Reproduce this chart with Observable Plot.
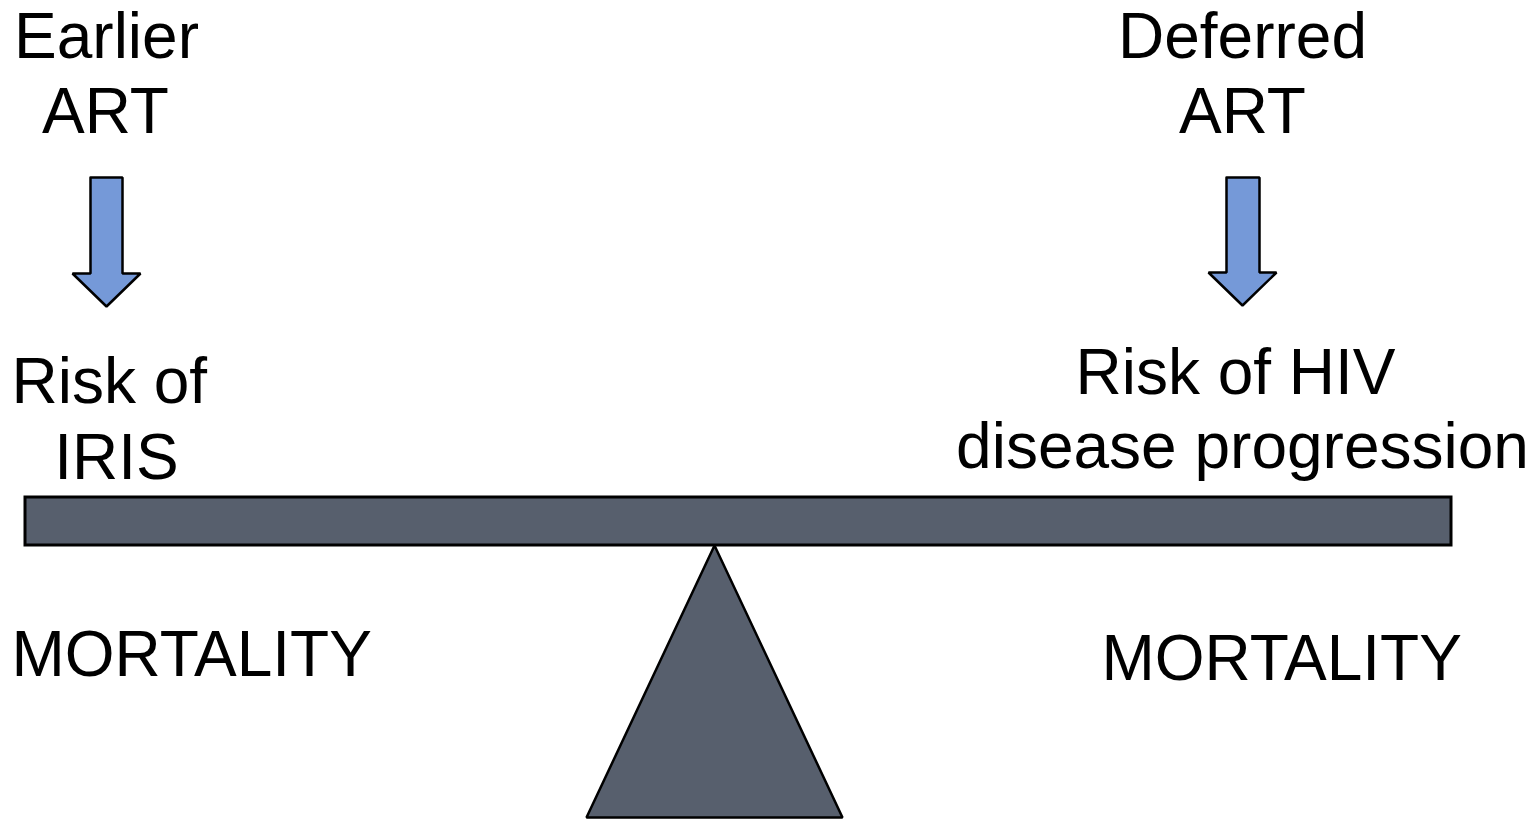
<!DOCTYPE html>
<html>
<head>
<meta charset="utf-8">
<script src="https://cdn.jsdelivr.net/npm/d3@7"></script>
<script src="https://cdn.jsdelivr.net/npm/@observablehq/plot@0.6"></script>
<style>
  html, body { margin: 0; padding: 0; background: #fff; }
  #chart svg { display: block; }
</style>
</head>
<body>
<div id="chart"></div>
<script>
// Diagram geometry (pixel coordinates of the seesaw picture)
const beam = [{x1: 25, x2: 1451, y1: 497, y2: 545}];
const fulcrum = [[714, 545], [842, 817], [586, 817], [714, 545]];
const arrowLeft = [[90, 177], [122, 177], [122, 273], [140, 273], [106, 306], [72, 273], [90, 273], [90, 177]];
const arrowRight = [[1226, 177], [1259, 177], [1259, 272], [1276, 272], [1242, 305], [1208, 272], [1226, 272], [1226, 177]];

// Text labels (baseline positions)
const labelText = ["Earlier", "ART", "Deferred", "ART", "Risk of", "IRIS", "Risk of HIV", "disease progression", "MORTALITY", "MORTALITY"];
const labelX = [106, 105, 1242, 1242, 11, 116, 1235, 1242, 11, 1101];
const labelY = [57, 132, 57, 132, 402, 478, 393, 467, 675, 679];
const labelAnchor = ["middle", "middle", "middle", "middle", "start", "middle", "middle", "middle", "start", "start"];

const labels = labelText.map((t, i) => ({text: t, x: labelX[i], y: labelY[i], anchor: labelAnchor[i]}));
const toPts = (arr, id) => arr.map(([x, y]) => ({x, y, id}));

const font = "'Liberation Sans', Arial, Helvetica, sans-serif";

const chart = Plot.plot({
  width: 1539,
  height: 819,
  margin: 0,
  style: {background: "#fff"},
  x: {domain: [0, 1539], range: [0, 1539], axis: null},
  y: {domain: [0, 819], range: [0, 819], axis: null},
  marks: [
    Plot.line(toPts(fulcrum, "f"), {x: "x", y: "y", fill: "#575f6d", stroke: "#000", strokeWidth: 2.5, strokeLinejoin: "miter"}),
    Plot.rect(beam, {x1: "x1", x2: "x2", y1: "y1", y2: "y2", fill: "#575f6d", stroke: "#000", strokeWidth: 3}),
    Plot.line(toPts(arrowLeft, "a"), {x: "x", y: "y", fill: "#7599d8", stroke: "#000", strokeWidth: 2.5, strokeLinejoin: "miter"}),
    Plot.line(toPts(arrowRight, "b"), {x: "x", y: "y", fill: "#7599d8", stroke: "#000", strokeWidth: 2.5, strokeLinejoin: "miter"}),
    ...["start", "middle"].map(a =>
      Plot.text(labels.filter(d => d.anchor === a), {
        x: "x", y: "y", text: "text",
        textAnchor: a, lineAnchor: "bottom",
        fontSize: 64, fontFamily: font, fill: "#000"
      })
    )
  ]
});
document.getElementById("chart").appendChild(chart);
</script>
</body>
</html>
